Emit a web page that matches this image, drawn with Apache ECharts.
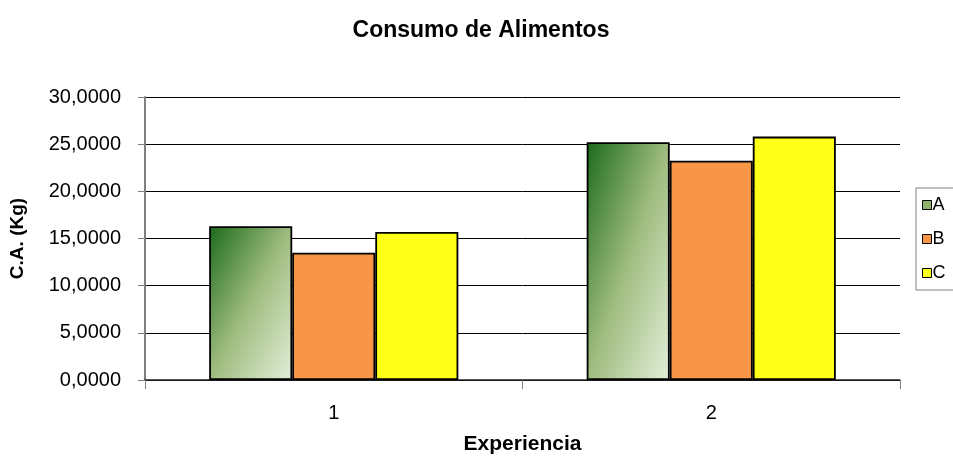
<!DOCTYPE html>
<html>
<head>
<meta charset="utf-8">
<script src="https://cdn.jsdelivr.net/npm/echarts@6/dist/echarts.min.js"></script>
<style>html,body{margin:0;padding:0;background:#fff}#chart{width:953px;height:460px}</style>
</head>
<body>
<div id="chart"></div>
<script>
// Food consumption per experiment, three groups
const categories = ['1', '2'];
const seriesNames = ['A', 'B', 'C'];
const valuesA = [16.3, 25.2];
const valuesB = [13.5, 23.25];
const valuesC = [15.7, 25.8];

const chart = echarts.init(document.getElementById('chart'));
const font = 'Liberation Sans, Arial, sans-serif';
const fmt = v => v.toFixed(4).replace('.', ',');
const CATEGORY_GAP = 0.34;

const flatFills = [null, '#f79646', '#ffff1a'];
const legendFills = ['#8fb26e', '#f79646', '#ffff1a'];
const seriesValues = [valuesA, valuesB, valuesC];

// Diagonal green fill: dark at the top-left corner, mid-tone along the
// anti-diagonal, pale at the bottom-right (bounding-box style shear).
function greenFill(w, h) {
  const d = h * h + w * w;
  return new echarts.graphic.LinearGradient(0, 0, 2 * h * h / d, 2 * w * w / d, [
    { offset: 0, color: '#1b6a1b' },
    { offset: 0.5, color: '#9fbc7f' },
    { offset: 1, color: '#e3efda' }
  ]);
}

function buildSeries(sizeOf) {
  return seriesNames.map((n, i) => ({
    name: n,
    type: 'bar',
    barGap: '0%',
    barCategoryGap: (CATEGORY_GAP * 100) + '%',
    itemStyle: { color: i === 0 ? '#8fb26e' : flatFills[i], borderColor: '#000', borderWidth: 1.8 },
    data: seriesValues[i].map(v => {
      if (i !== 0 || !sizeOf) return v;
      const s = sizeOf(v);
      return { value: v, itemStyle: { color: greenFill(s.w, s.h) } };
    })
  }));
}

chart.setOption({
  animation: false,
  backgroundColor: '#ffffff',
  title: {
    text: 'Consumo de Alimentos',
    left: 476, top: 14, textAlign: 'center',
    textStyle: { fontFamily: font, fontSize: 23, fontWeight: 'bold', color: '#000' }
  },
  legend: {
    orient: 'vertical',
    left: 916, top: 188,
    padding: [8, 10, 8, 6],
    itemGap: 16,
    itemWidth: 9, itemHeight: 9,
    borderColor: '#808080', borderWidth: 1,
    textStyle: { fontFamily: font, fontSize: 18, color: '#000', padding: [0, 0, 0, -4] },
    data: seriesNames.map((n, i) => ({
      name: n, icon: 'rect',
      itemStyle: { color: legendFills[i], borderColor: '#000', borderWidth: 1 }
    }))
  },
  grid: { left: 145, right: 53, top: 97, bottom: 79 },
  xAxis: {
    type: 'category',
    data: categories,
    name: 'Experiencia',
    nameLocation: 'middle',
    nameGap: 54,
    nameTextStyle: { fontFamily: font, fontSize: 21, fontWeight: 'bold', color: '#000' },
    axisLine: { lineStyle: { color: '#222222', width: 1.5 } },
    axisTick: { show: true, alignWithLabel: false, length: 9, lineStyle: { color: '#808080' } },
    axisLabel: { fontFamily: font, fontSize: 20, color: '#000', margin: 23 }
  },
  yAxis: {
    type: 'value',
    min: 0, max: 30, interval: 5,
    name: 'C.A. (Kg)',
    nameLocation: 'middle',
    nameGap: 118,
    nameRotate: 90,
    nameTextStyle: { fontFamily: font, fontSize: 19, fontWeight: 'bold', color: '#000' },
    axisLine: { show: true, lineStyle: { color: '#808080', width: 2 } },
    axisTick: { show: true, inside: false, length: 7, lineStyle: { color: '#808080' } },
    axisLabel: { fontFamily: font, fontSize: 20, color: '#000', margin: 24, formatter: fmt },
    splitLine: { lineStyle: { color: '#000', width: 1 } }
  },
  series: buildSeries(null)
});

// Size the green gradient to each bar's pixel box, taken from the axes.
const catW = chart.convertToPixel({ xAxisIndex: 0 }, 1) - chart.convertToPixel({ xAxisIndex: 0 }, 0);
const y0 = chart.convertToPixel({ yAxisIndex: 0 }, 0);
const barW = catW * (1 - CATEGORY_GAP) / seriesNames.length;
chart.setOption({
  series: buildSeries(v => ({ w: barW, h: y0 - chart.convertToPixel({ yAxisIndex: 0 }, v) }))
});
</script>
</body>
</html>
